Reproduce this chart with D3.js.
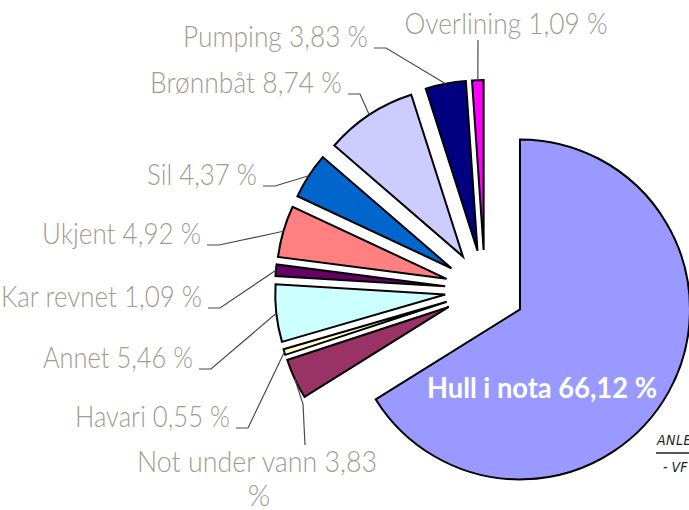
<!DOCTYPE html>
<html>
<head>
<meta charset="utf-8">
<script src="https://cdn.jsdelivr.net/npm/d3@7/dist/d3.min.js"></script>
<style>
html,body{margin:0;padding:0;background:#fff;}
svg{display:block;}
</style>
</head>
<body>
<svg id="chart" width="689" height="510"></svg>
<script>
// ---- data ----
const categories = ["Hull i nota", "Not under vann", "Havari", "Annet", "Kar revnet", "Ukjent", "Sil", "Brønnbåt", "Pumping", "Overlining"];
const values = [66.12, 3.83, 0.55, 5.46, 1.09, 4.92, 4.37, 8.74, 3.83, 1.09];
const colors = ["#9999FF", "#993366", "#FFFFCC", "#CCFFFF", "#660066", "#FF8080", "#0066CC", "#CCCCFF", "#000080", "#FF00FF"];

// ---- layout ----
const cx = 485, cy = 290, R = 170, explode = 40;
const num = v => d3.format(".2f")(v).replace(".", ",");
const fmt = v => num(v) + " %";

// label layout: text position (baseline), anchor, fitted width, leader shape
const labelLayout = [
  {x: 542, y: 398, anchor: "middle", w: 230, inside: true},
  {x: 257, y: 472, anchor: "middle", w: 240, lines: 2, leader: [[305, 445], [303, 404]]},
  {x: 230, y: 427, anchor: "end", w: 155},
  {x: 193, y: 368, anchor: "end", w: 150},
  {x: 202, y: 307, anchor: "end", w: 201},
  {x: 201, y: 244, anchor: "end", w: 159},
  {x: 257, y: 185, anchor: "end", w: 110},
  {x: 342, y: 93, anchor: "end", w: 192},
  {x: 368, y: 47, anchor: "end", w: 185},
  {x: 506, y: 34, anchor: "middle", w: 203, leader: [[478, 40]]}
];

const svg = d3.select("#chart");
const pie = d3.pie().sort(null).value(d => d).startAngle(0).endAngle(2 * Math.PI);
const arcs = pie(values);
const arc = d3.arc().innerRadius(0).outerRadius(R);

const mid = d => (d.startAngle + d.endAngle) / 2;
const off = d => [Math.sin(mid(d)) * explode, -Math.cos(mid(d)) * explode];

const g = svg.append("g").attr("transform", `translate(${cx},${cy})`);
g.selectAll("path.slice")
  .data(arcs)
  .enter().append("path")
  .attr("class", "slice")
  .attr("transform", d => { const o = off(d); return `translate(${o[0]},${o[1]})`; })
  .attr("d", arc)
  .attr("fill", (d, i) => colors[i])
  .attr("stroke", "#000")
  .attr("stroke-width", 2)
  .attr("stroke-linejoin", "miter");

const outerPt = d => [cx + Math.sin(mid(d)) * (R + explode), cy - Math.cos(mid(d)) * (R + explode)];

const labelFont = "Lato, 'DejaVu Sans Condensed', sans-serif";
const labelColor = "#a39b92";
const leaderColor = "#4a4a4a";

function fit(sel, w) {
  sel.attr("textLength", w).attr("lengthAdjust", "spacingAndGlyphs");
}

arcs.forEach((d, i) => {
  const L = labelLayout[i];
  const t = svg.append("text")
    .attr("y", L.y)
    .attr("text-anchor", L.anchor)
    .attr("font-family", labelFont)
    .attr("font-size", L.inside ? 28 : 29)
    .attr("font-weight", L.inside ? 700 : 300)
    .attr("fill", L.inside ? "#fff" : labelColor);
  if (L.lines === 2) {
    const a = t.append("tspan").attr("x", L.x).attr("y", L.y).text(categories[i] + " " + num(values[i]));
    fit(a, L.w);
    t.append("tspan").attr("x", L.x + 2).attr("y", L.y + 34).text("%");
  } else {
    t.attr("x", L.x).text(categories[i] + " " + fmt(values[i]));
    fit(t, L.w);
  }
  if (L.inside) return;
  const p = outerPt(d);
  let pts;
  if (L.leader) {
    pts = L.leader.concat([p]);
  } else {
    const x0 = L.x + 6;
    pts = [[x0, L.y + 1], [x0 + 12, L.y + 1], p];
  }
  svg.append("path")
    .attr("d", d3.line()(pts))
    .attr("fill", "none")
    .attr("stroke", leaderColor)
    .attr("stroke-width", 1.2);
});

// handwritten note (cut off at right edge)
const note = svg.append("g").attr("font-family", "'DejaVu Sans Condensed', sans-serif").attr("fill", "#222");
note.append("text").attr("x", 657).attr("y", 445).attr("font-size", 14).attr("font-style", "italic").attr("letter-spacing", 0.5).text("ANLEGG");
note.append("line").attr("x1", 656).attr("x2", 700).attr("y1", 453).attr("y2", 453).attr("stroke", "#222").attr("stroke-width", 1.5);
note.append("text").attr("x", 663).attr("y", 472).attr("font-size", 14).attr("font-style", "italic").text("- VF");
</script>
</body>
</html>
